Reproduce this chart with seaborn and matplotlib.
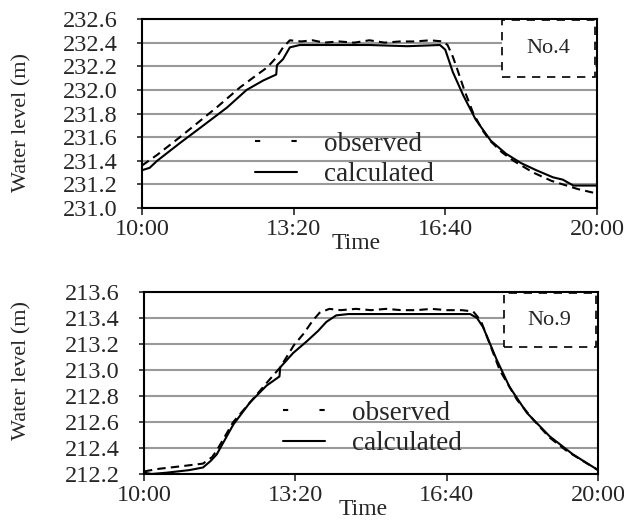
import numpy as np
import pandas as pd
import seaborn as sns
import matplotlib
matplotlib.use('Agg')
import matplotlib.pyplot as plt
from matplotlib.lines import Line2D
from matplotlib.patches import Rectangle

sns.set_style('white')
plt.rcParams['font.family'] = ['Liberation Serif', 'DejaVu Serif']

# time in minutes after 10:00
tick_pos = [0, 200, 400, 600]
tick_lab = ['10:00', '13:20', '16:40', '20:00']

# No.4
t4_obs = [0, 20, 50, 77, 100, 129, 150, 165, 178, 186, 195, 210, 225, 240, 260, 280, 300, 320,
          340, 360, 380, 397, 403, 410, 415, 425, 437, 450, 459, 475, 490, 516, 540, 560, 575, 595]
v4_obs = [231.36, 231.45, 231.60, 231.74, 231.86, 232.02, 232.12, 232.19, 232.28, 232.36, 232.42,
          232.41, 232.42, 232.40, 232.41, 232.40, 232.42, 232.40, 232.41, 232.41, 232.42, 232.41,
          232.38, 232.28, 232.19, 232.00, 231.80, 231.65, 231.57, 231.47, 231.40, 231.30, 231.23,
          231.19, 231.16, 231.13]
t4_calc = [0, 10, 20, 50, 77, 112, 138, 160, 177, 178, 186, 195, 208, 250, 300, 350, 393, 400,
           410, 424, 440, 460, 480, 500, 520, 542, 555, 569, 600]
v4_calc = [231.32, 231.34, 231.40, 231.55, 231.68, 231.85, 232.00, 232.08, 232.13, 232.21, 232.26,
           232.36, 232.38, 232.38, 232.38, 232.37, 232.38, 232.34, 232.15, 231.95, 231.75, 231.57,
           231.46, 231.38, 231.32, 231.26, 231.24, 231.19, 231.19]

# No.9
t9_obs = [0, 20, 50, 78, 90, 96, 118, 140, 162, 180, 198, 211, 223, 232, 245, 260, 280, 300, 320,
          340, 360, 380, 400, 420, 435, 445, 453, 470, 493, 514, 536, 558, 580, 600]
v9_obs = [212.22, 212.24, 212.26, 212.28, 212.33, 212.38, 212.60, 212.75, 212.90, 213.02, 213.19,
          213.28, 213.38, 213.44, 213.47, 213.46, 213.47, 213.46, 213.47, 213.46, 213.46, 213.47,
          213.46, 213.46, 213.45, 213.38, 213.26, 213.00, 212.77, 212.62, 212.48, 212.38, 212.30,
          212.23]
t9_calc = [0, 10, 30, 60, 78, 88, 96, 118, 140, 162, 179, 180, 197, 215, 230, 241, 254, 270, 431,
           440, 448, 466, 483, 506, 536, 567, 600]
v9_calc = [212.21, 212.20, 212.21, 212.23, 212.25, 212.30, 212.35, 212.58, 212.75, 212.88, 212.95,
           213.02, 213.13, 213.22, 213.30, 213.37, 213.42, 213.43, 213.43, 213.40, 213.33, 213.08,
           212.87, 212.67, 212.49, 212.35, 212.23]


def make_df(t_obs, v_obs, t_calc, v_calc):
    a = pd.DataFrame({'t': t_obs, 'level': v_obs, 'series': 'observed'})
    b = pd.DataFrame({'t': t_calc, 'level': v_calc, 'series': 'calculated'})
    return pd.concat([a, b], ignore_index=True)


panels = [
    dict(df=make_df(t4_obs, v4_obs, t4_calc, v4_calc), rect=[0.2276, 0.6053, 0.729, 0.3586],
         ylim=(231.0, 232.6), name='No.4', leg=(0.248, 0.257), ylab=(-0.242, 0.45), xlab=(0.47, -0.13)),
    dict(df=make_df(t9_obs, v9_obs, t9_calc, v9_calc), rect=[0.2308, 0.1006, 0.7276, 0.3454],
         ylim=(212.2, 213.6), name='No.9', leg=(0.306, 0.25), ylab=(-0.247, 0.57), xlab=(0.482, -0.14)),
]

fig = plt.figure(figsize=(6.24, 5.27), dpi=100, facecolor='w')

for p in panels:
    ax = fig.add_axes(p['rect'])
    sns.lineplot(data=p['df'], x='t', y='level', style='series', sort=False,
                 dashes={'observed': (4, 2.5), 'calculated': ''}, color='black',
                 linewidth=1.5, legend=False, ax=ax, estimator=None, zorder=4)
    ax.set_xlim(0, 600)
    ax.set_ylim(*p['ylim'])
    ax.set_xticks(tick_pos)
    ax.set_xticklabels(tick_lab)
    yt = np.arange(p['ylim'][0], p['ylim'][1] + 0.01, 0.2)
    ax.set_yticks(yt)
    ax.set_yticklabels(['%.1f' % v for v in yt])
    ax.yaxis.grid(True, color='#999999', linewidth=1.5)
    ax.xaxis.grid(False)
    ax.set_axisbelow(True)
    for s in ax.spines.values():
        s.set_color('black')
        s.set_linewidth(1.5)
    ax.tick_params(axis='y', left=True, direction='out', length=3.5, width=1.2, pad=14, labelsize=17.5)
    ax.tick_params(axis='x', bottom=True, direction='out', length=5, width=1.2, pad=3, labelsize=17.5)

    ax.set_ylabel('Water level (m)', fontsize=16)
    ax.set_xlabel('Time', fontsize=17)
    ax.yaxis.set_label_coords(*p['ylab'])
    ax.xaxis.set_label_coords(*p['xlab'])

    # name box
    ax.add_patch(Rectangle((0.792, 0.695), 0.203, 0.30, transform=ax.transAxes,
                           facecolor='white', edgecolor='black', linestyle=(0, (5, 4)),
                           linewidth=1.2, zorder=3))
    ax.text(0.893, 0.845, p['name'], transform=ax.transAxes, ha='center', va='center',
            fontsize=16, zorder=5)

    handles = [Line2D([], [], color='black', lw=1.5, linestyle=(0, (2.5, 15))),
               Line2D([], [], color='black', lw=1.5)]
    ax.legend(handles, ['observed', 'calculated'], loc='center left', bbox_to_anchor=p['leg'],
              frameon=False, fontsize=19.5, handlelength=1.55, handletextpad=1.0,
              labelspacing=0.2, borderpad=0, borderaxespad=0)

fig.savefig('out.png', dpi=100, facecolor='w')
